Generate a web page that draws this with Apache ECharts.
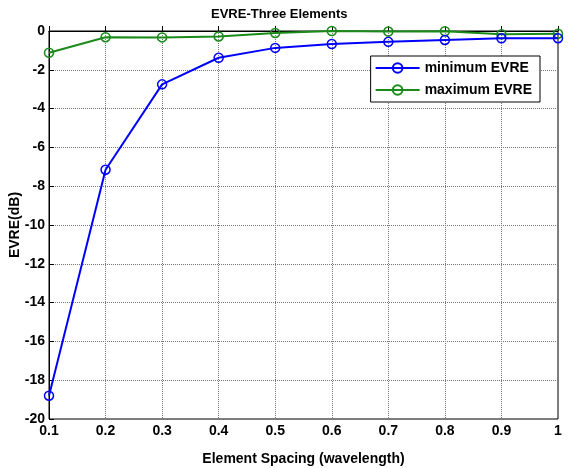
<!DOCTYPE html>
<html>
<head>
<meta charset="utf-8">
<script src="https://cdn.jsdelivr.net/npm/echarts@6/dist/echarts.min.js"></script>
<style>
  html, body { margin: 0; padding: 0; background: #fff; }
  #chart { width: 573px; height: 468px; }
</style>
</head>
<body>
<div id="chart"></div>
<script>
// element spacing (wavelength)
const spacing = [0.1, 0.2, 0.3, 0.4, 0.5, 0.6, 0.7, 0.8, 0.9, 1.0];
// EVRE in dB
const minEvre = [-18.8, -7.15, -2.75, -1.38, -0.87, -0.67, -0.56, -0.46, -0.38, -0.37];
const maxEvre = [-1.12, -0.32, -0.33, -0.28, -0.1, 0.0, -0.03, -0.01, -0.17, -0.14];

const chart = echarts.init(document.getElementById('chart'));

const toPairs = (xs, ys) => xs.map((x, i) => [x, ys[i]]);

const labelStyle = {
  color: '#000',
  fontWeight: 'bold',
  fontSize: 14,
  fontFamily: 'Liberation Sans, Arial, sans-serif',
};

chart.setOption({
  animation: false,
  title: {
    text: 'EVRE-Three Elements',
    left: 206,
    top: 3,
    textStyle: { fontSize: 13, fontWeight: 'bold', color: '#000', fontFamily: 'Liberation Sans, Arial, sans-serif' },
  },
  grid: {
    left: 49,
    right: 15,
    top: 31,
    bottom: 49,
    outerBoundsMode: 'none',
    containLabel: false,
    show: true,
    borderColor: '#000',
    borderWidth: 1,
  },
  legend: {
    right: 33,
    top: 56,
    orient: 'vertical',
    backgroundColor: '#fff',
    borderColor: '#000',
    borderWidth: 1,
    borderRadius: 0,
    padding: [5, 8, 5, 4],
    itemGap: 8,
    itemWidth: 44,
    itemHeight: 12,
    textStyle: labelStyle,
    data: ['minimum EVRE', 'maximum EVRE'],
  },
  xAxis: {
    type: 'value',
    min: 0.1,
    max: 1,
    interval: 0.1,
    name: 'Element Spacing (wavelength)',
    nameLocation: 'middle',
    nameGap: 33,
    nameMoveOverlap: false,
    nameTextStyle: labelStyle,
    axisLine: { lineStyle: { color: '#000' } },
    axisTick: { inside: true, length: 5, lineStyle: { color: '#000' } },
    axisLabel: Object.assign({ margin: 5, formatter: (v) => String(Math.round(v * 10) / 10) }, labelStyle),
    splitLine: { show: true, lineStyle: { type: 'dotted', color: '#777' } },
  },
  yAxis: {
    type: 'value',
    min: -20,
    max: 0,
    interval: 2,
    name: 'EVRE(dB)',
    nameLocation: 'middle',
    nameGap: 27,
    nameMoveOverlap: false,
    nameTextStyle: labelStyle,
    axisLine: { lineStyle: { color: '#000' } },
    axisTick: { inside: true, length: 5, lineStyle: { color: '#000' } },
    axisLabel: Object.assign({ margin: 4 }, labelStyle),
    splitLine: { show: true, lineStyle: { type: 'dotted', color: '#777' } },
  },
  series: [
    {
      name: 'minimum EVRE',
      type: 'line',
      data: toPairs(spacing, minEvre),
      symbol: 'circle',
      symbolSize: 9,
      lineStyle: { color: '#0000ff', width: 2 },
      itemStyle: { color: 'transparent', borderColor: '#0000ff', borderWidth: 1.5 },
      z: 3,
    },
    {
      name: 'maximum EVRE',
      type: 'line',
      data: toPairs(spacing, maxEvre),
      symbol: 'circle',
      symbolSize: 9,
      lineStyle: { color: '#1a8a1a', width: 2 },
      itemStyle: { color: 'transparent', borderColor: '#1a8a1a', borderWidth: 1.5 },
      z: 2,
    },
  ],
});
</script>
</body>
</html>
